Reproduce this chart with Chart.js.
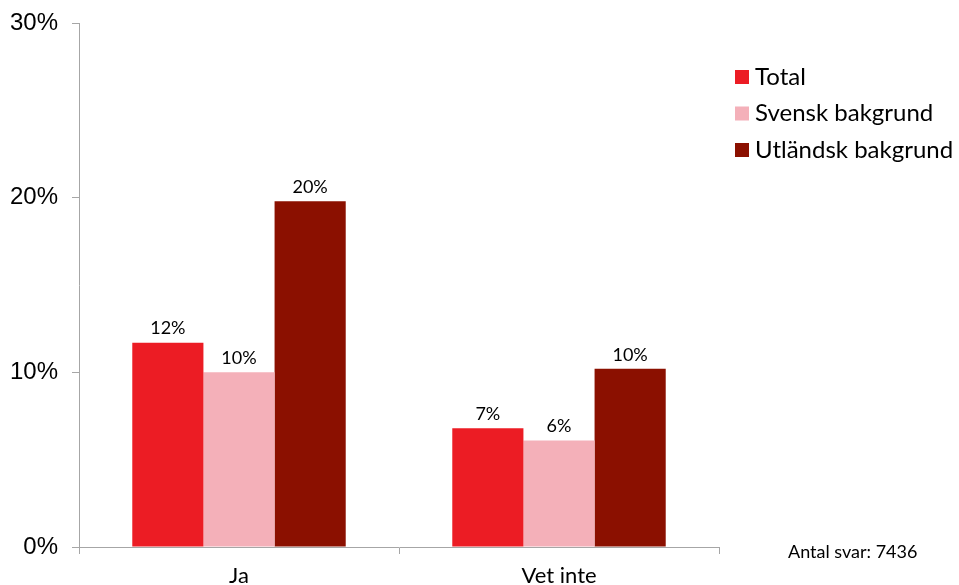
<!DOCTYPE html>
<html><head><meta charset="utf-8">
<script src="https://cdn.jsdelivr.net/npm/chart.js@4/dist/chart.umd.min.js"></script>
<style>html,body{margin:0;padding:0;background:#fff}#wrap{width:959px;height:585px;position:relative}</style>
</head><body><div id="wrap"><canvas id="c" width="959" height="585"></canvas></div>
<script>
const categories = ["Ja", "Vet inte"];
const seriesNames = ["Total", "Svensk bakgrund", "Utländsk bakgrund"];
const totalValues = [11.7, 6.8];
const svenskValues = [10.0, 6.1];
const utlandskValues = [19.8, 10.2];
const yTicks = [0, 10, 20, 30];
const noteText = "Antal svar: 7436";
const colors = ["#ec1c24", "#f4b0b9", "#8b1000"];

const labelPlugin = {
  id: 'labels',
  afterDatasetsDraw(chart) {
    const ctx = chart.ctx;
    ctx.save();
    ctx.font = '18px Lato';
    ctx.fillStyle = '#000';
    ctx.textAlign = 'center';
    ctx.textBaseline = 'bottom';
    chart.data.datasets.forEach((ds, i) => {
      chart.getDatasetMeta(i).data.forEach((bar, j) => {
        ctx.fillText(Math.round(ds.data[j]) + '%', bar.x, bar.y - 5);
      });
    });
    // legend
    ctx.font = '24px Lato';
    ctx.textAlign = 'left';
    ctx.textBaseline = 'middle';
    chart.data.datasets.forEach((ds, i) => {
      const y = 77 + i * 36.5;
      ctx.fillStyle = ds.backgroundColor;
      ctx.fillRect(735, y - 7, 14, 14);
      ctx.fillStyle = '#000';
      ctx.fillText(ds.label, 755, y);
    });
    ctx.font = '18px Lato';
    ctx.fillText(noteText, 788, 552);
    ctx.restore();
  }
};

new Chart(document.getElementById('c'), {
  type: 'bar',
  data: {
    labels: categories,
    datasets: [
      { label: seriesNames[0], data: totalValues, backgroundColor: colors[0] },
      { label: seriesNames[1], data: svenskValues, backgroundColor: colors[1] },
      { label: seriesNames[2], data: utlandskValues, backgroundColor: colors[2] }
    ]
  },
  options: {
    responsive: false,
    animation: false,
    layout: { padding: { top: 23, right: 240, left: 0, bottom: 0 } },
    datasets: { bar: { categoryPercentage: 0.667, barPercentage: 1.0 } },
    plugins: { legend: { display: false }, tooltip: { enabled: false } },
    scales: {
      x: {
        grid: { offset: true, drawOnChartArea: false, tickLength: 7, color: '#a6a6a6' },
        border: { color: '#a6a6a6' },
        ticks: { color: '#000', font: { family: 'Lato', size: 22 }, padding: 9 },
        afterFit(s) { s.height = 38; s.paddingLeft = 0; s.paddingRight = 0; }
      },
      y: {
        min: 0, max: 30,
        afterBuildTicks(s) { s.ticks = yTicks.map(v => ({ value: v })); },
        grid: { drawOnChartArea: false, tickLength: 7, color: '#a6a6a6' },
        border: { color: '#a6a6a6' },
        ticks: { color: '#000', font: { family: 'Liberation Sans', size: 24 }, padding: 14, callback: v => v + '%' },
        afterFit(s) { s.width = 79; s.paddingTop = 0; s.paddingBottom = 0; }
      }
    }
  },
  plugins: [labelPlugin]
});
</script></body></html>
